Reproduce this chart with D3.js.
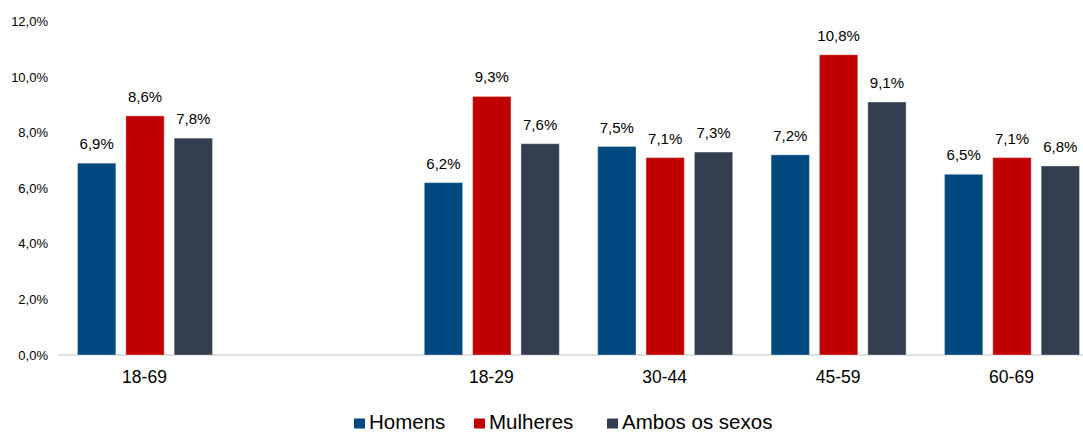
<!DOCTYPE html>
<html><head><meta charset="utf-8">
<script src="https://cdn.jsdelivr.net/npm/d3@7"></script>
<style>body{margin:0;background:#fff}svg{display:block;font-family:"Liberation Sans",Arial,sans-serif}</style>
</head><body><svg id="c" width="1083" height="432"></svg>
<script>
const categories = ["18-69", "", "18-29", "30-44", "45-59", "60-69"];
const seriesNames = ["Homens", "Mulheres", "Ambos os sexos"];
const homens = [6.9, null, 6.2, 7.5, 7.2, 6.5];
const mulheres = [8.6, null, 9.3, 7.1, 10.8, 7.1];
const ambos = [7.8, null, 7.6, 7.3, 9.1, 6.8];
const colors = ["#00497f", "#c00000", "#333f50"];
const yTicks = [0, 2, 4, 6, 8, 10, 12];

const svg = d3.select("#c");
const y = d3.scaleLinear().domain([0, 12]).range([355, 21.4]);
const x0 = d3.scaleBand().domain(categories).range([58.3, 1098.7]).padding(0);
const x1 = d3.scaleBand().domain(seriesNames).range([19.2, 154.2]).paddingInner(0.207).paddingOuter(0);
const fmt = v => v.toFixed(1).replace(".", ",") + "%";

// y-axis labels
svg.append("g").selectAll("text").data(yTicks).join("text")
  .attr("x", 48).attr("y", d => y(d)).attr("dy", "0.35em")
  .attr("text-anchor", "end").attr("font-size", 13).attr("fill", "#000")
  .text(d => fmt(d));

// baseline
svg.append("line").attr("x1", 58).attr("x2", 1083).attr("y1", y(0)).attr("y2", y(0))
  .attr("stroke", "#d9d9d9").attr("stroke-width", 1.5);

const allSeries = [homens, mulheres, ambos];
const data = [];
categories.forEach((c, i) => {
  seriesNames.forEach((s, j) => {
    const v = allSeries[j][i];
    if (v != null) data.push({c, s, v, j});
  });
});

svg.append("g").selectAll("rect").data(data).join("rect")
  .attr("x", d => x0(d.c) + x1(d.s))
  .attr("width", x1.bandwidth())
  .attr("y", d => y(d.v))
  .attr("height", d => y(0) - y(d.v))
  .attr("fill", d => colors[d.j])
  .attr("stroke", "rgba(255,255,255,0.35)").attr("stroke-width", 1);

svg.append("g").selectAll("text").data(data).join("text")
  .attr("x", d => x0(d.c) + x1(d.s) + x1.bandwidth() / 2)
  .attr("y", d => y(d.v) - 14)
  .attr("text-anchor", "middle").attr("font-size", 15).attr("fill", "#000")
  .text(d => fmt(d.v));

// x labels
svg.append("g").selectAll("text").data(categories.filter(c => c)).join("text")
  .attr("x", d => x0(d) + x0.bandwidth() / 2 - 0.5)
  .attr("y", 383)
  .attr("text-anchor", "middle").attr("font-size", 17.5).attr("fill", "#000")
  .text(d => d);

// legend
const legX = [354, 474, 607];
const lg = svg.append("g").selectAll("g").data(seriesNames).join("g")
  .attr("transform", (d, i) => `translate(${legX[i]},0)`);
lg.append("rect").attr("x", 0).attr("y", 418.5).attr("width", 11).attr("height", 10)
  .attr("fill", (d, i) => colors[i]);
lg.append("text").attr("x", 15).attr("y", 429).attr("font-size", 20.5).attr("fill", "#000")
  .text(d => d);
</script></body></html>
